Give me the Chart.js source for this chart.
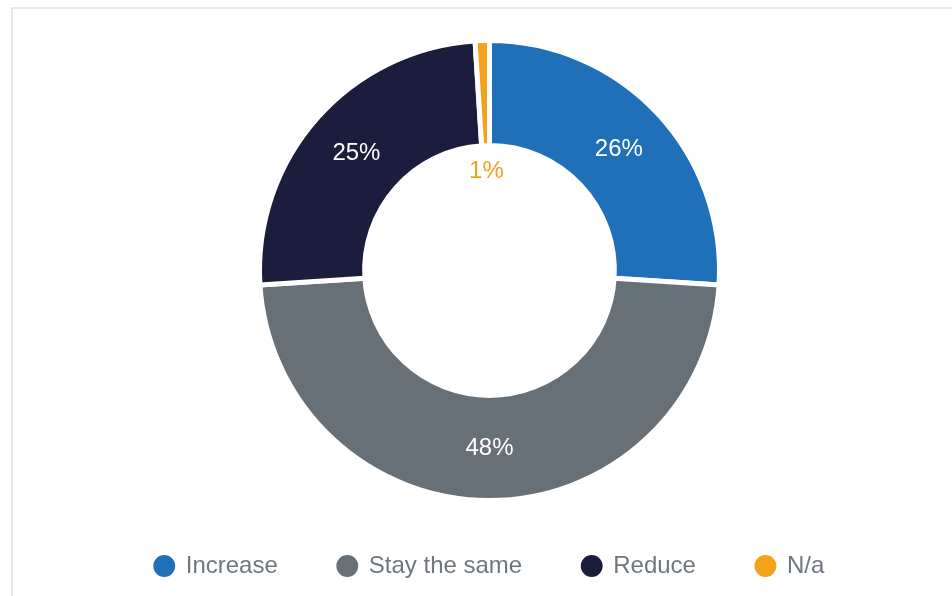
<!DOCTYPE html>
<html>
<head>
<meta charset="utf-8">
<script src="https://cdn.jsdelivr.net/npm/chart.js@4.4.1/dist/chart.umd.min.js"></script>
<style>
    html, body { margin: 0; padding: 0; background: #fff; overflow: hidden; }
    #wrap { position: relative; width: 952px; height: 596px; }
    #frame {
        position: absolute; left: 11px; top: 7px; width: 1000px; height: 700px;
        border-left: 2px solid #e8e8e8; border-top: 2px solid #e8e8e8;
    }
    #answers { position: absolute; left: 0; top: 0; }
</style>
</head>
<body>
<div id="wrap">
    <div id="frame"></div>
    <canvas id="answers" width="952" height="596"></canvas>
</div>
<script>
const categories = ["Increase", "Stay the same", "Reduce", "N/a"];
const shares = [26, 48, 25, 1];
const sliceColors = ["#1f70b9", "#687077", "#1c1d3c", "#f4a11c"];
// small slices get their label inside the hole, in the slice colour
const labelInHole = [false, false, false, true];

const fontFamily = "'Liberation Sans', Arial, sans-serif";

const sliceLabels = {
    id: "sliceLabels",
    afterDatasetsDraw(chart) {
        const ctx = chart.ctx;
        const arcs = chart.getDatasetMeta(0).data;
        ctx.save();
        ctx.font = "24px " + fontFamily;
        ctx.textAlign = "center";
        ctx.textBaseline = "middle";
        arcs.forEach((arc, i) => {
            const p = arc.getProps(["x", "y", "startAngle", "endAngle", "innerRadius", "outerRadius"], true);
            const mid = (p.startAngle + p.endAngle) / 2;
            let r = (p.innerRadius + p.outerRadius) / 2;
            if (labelInHole[i]) r = p.innerRadius - 26;
            ctx.fillStyle = labelInHole[i] ? sliceColors[i] : "#ffffff";
            ctx.fillText(shares[i] + "%", p.x + Math.cos(mid) * r, p.y + Math.sin(mid) * r);
        });
        ctx.restore();
    }
};

new Chart(document.getElementById("answers"), {
    type: "doughnut",
    data: {
        labels: categories,
        datasets: [{
            data: shares,
            backgroundColor: sliceColors,
            borderColor: "#ffffff",
            borderWidth: 5,
            hoverOffset: 0
        }]
    },
    options: {
        responsive: false,
        animation: false,
        radius: 230,
        cutout: "54.3%",
        layout: { padding: { top: 47, bottom: 8, left: 27, right: 0 } },
        plugins: {
            tooltip: { enabled: false },
            legend: {
                position: "bottom",
                labels: {
                    usePointStyle: true,
                    pointStyle: "circle",
                    boxWidth: 19,
                    boxHeight: 19,
                    padding: 60,
                    color: "#6e7780",
                    font: { size: 24, family: fontFamily }
                }
            }
        }
    },
    plugins: [sliceLabels]
});
</script>
</body>
</html>
